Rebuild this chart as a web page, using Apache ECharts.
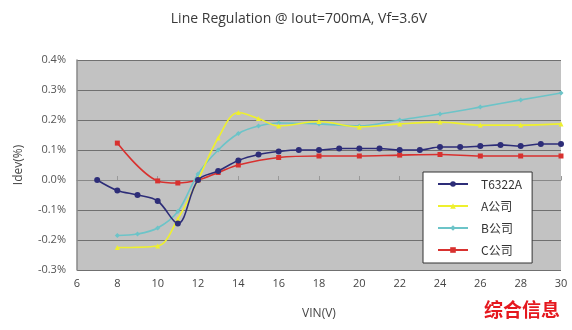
<!DOCTYPE html>
<html><head><meta charset="utf-8">
<script src="https://cdn.jsdelivr.net/npm/echarts@6/dist/echarts.min.js"></script>
<style>html,body{margin:0;padding:0;background:#fff}#c{width:572px;height:330px}</style>
</head><body><div id="c"></div>
<script>
var titleText = 'Line Regulation @ Iout=700mA, Vf=3.6V';
var xTicks = [6, 8, 10, 12, 14, 16, 18, 20, 22, 24, 26, 28, 30];
var yTicks = [-0.3, -0.2, -0.1, 0.0, 0.1, 0.2, 0.3, 0.4];
var seriesNames = ['T6322A', 'A公司', 'B公司', 'C公司'];

var t6322aX = [7, 8, 9, 10, 11, 12, 13, 14, 15, 16, 17, 18, 19, 20, 21, 22, 23, 24, 25, 26, 27, 28, 29, 30];
var t6322aY = [0.0, -0.035, -0.05, -0.07, -0.145, 0.0, 0.03, 0.065, 0.085, 0.095, 0.1, 0.1, 0.105, 0.105, 0.105, 0.1, 0.1, 0.11, 0.11, 0.113, 0.117, 0.113, 0.12, 0.12];

var aX = [8, 10, 11, 12, 13, 14, 15, 16, 18, 20, 22, 24, 26, 28, 30];
var aY = [-0.225, -0.22, -0.13, 0.0, 0.14, 0.225, 0.205, 0.18, 0.195, 0.177, 0.187, 0.193, 0.183, 0.183, 0.187];

var bX = [8, 9, 10, 11, 12, 13, 14, 15, 16, 18, 20, 22, 24, 26, 28, 30];
var bY = [-0.185, -0.18, -0.16, -0.105, 0.02, 0.1, 0.155, 0.18, 0.19, 0.187, 0.18, 0.2, 0.22, 0.243, 0.267, 0.29];

var cX = [8, 10, 11, 12, 13, 14, 16, 18, 20, 22, 24, 26, 28, 30];
var cY = [0.123, -0.003, -0.01, 0.0, 0.025, 0.05, 0.075, 0.08, 0.08, 0.083, 0.085, 0.08, 0.08, 0.08];

function pairs(xs, ys) { return xs.map(function (x, i) { return [x, ys[i]]; }); }

var colors = ['#2d2d78', '#eef02e', '#6cc4c8', '#d8312f'];
var symbols = ['circle', 'triangle', 'diamond', 'rect'];
var datasets = [pairs(t6322aX, t6322aY), pairs(aX, aY), pairs(bX, bY), pairs(cX, cY)];

var chart = echarts.init(document.getElementById('c'), null, {renderer: 'canvas'});
var series = seriesNames.map(function (n, i) {
  return {
    name: n, type: 'line', data: datasets[i], smooth: 0.35,
    symbol: symbols[i], symbolSize: i === 0 ? 6 : 5,
    lineStyle: {color: colors[i], width: 1.6},
    itemStyle: {color: colors[i]},
    z: 4 - i
  };
});
chart.setOption({
  animation: false,
  backgroundColor: '#ffffff',
  title: {text: titleText, left: 294, top: 7, textAlign: 'center',
    textStyle: {fontFamily: 'Open Sans', fontSize: 14, fontWeight: 'normal', color: '#3a3a3a'}},
  grid: {left: 77, right: 11, top: 60, bottom: 60, show: true, backgroundColor: '#c2c2c2', borderWidth: 0},
  legend: {
    orient: 'vertical', left: 423, top: 172,
    backgroundColor: '#ffffff', borderColor: '#333', borderWidth: 1,
    padding: [6, 10, 7, 14], itemGap: 10, itemWidth: 30, itemHeight: 7,
    textStyle: {fontFamily: 'Noto Sans CJK SC', fontSize: 12, color: '#333', padding: [0, 0, 0, 8]},
    data: seriesNames
  },
  xAxis: {
    type: 'value', min: 6, max: 30, interval: 2,
    name: 'VIN(V)', nameLocation: 'middle', nameGap: 38,
    nameTextStyle: {fontFamily: 'Open Sans', fontSize: 12, color: '#444'},
    axisLine: {show: true, lineStyle: {color: '#888'}},
    axisTick: {show: true, inside: true, length: 4, lineStyle: {color: '#999'}},
    axisLabel: {fontFamily: 'Open Sans', fontSize: 11, color: '#444', margin: 8},
    splitLine: {show: false}
  },
  yAxis: {
    type: 'value', min: -0.3, max: 0.4, interval: 0.1,
    name: 'Idev(%)', nameLocation: 'middle', nameGap: 52, nameRotate: 90,
    nameTextStyle: {fontFamily: 'Open Sans', fontSize: 12, color: '#444'},
    axisLine: {show: true, lineStyle: {color: '#888', width: 1.5}},
    axisTick: {show: false},
    axisLabel: {fontFamily: 'Open Sans', fontSize: 11, color: '#555', margin: 11,
      formatter: function (v) { return v.toFixed(1) + '%'; }},
    splitLine: {show: true, lineStyle: {color: '#707070', width: 1}}
  },
  graphic: [{
    type: 'text', right: 12, top: 300, z: 100,
    style: {text: '综合信息', fontFamily: 'Noto Sans CJK SC', fontSize: 19, fontWeight: 'bold', fill: '#e5191f'}
  }],
  series: series
});
</script></body></html>
